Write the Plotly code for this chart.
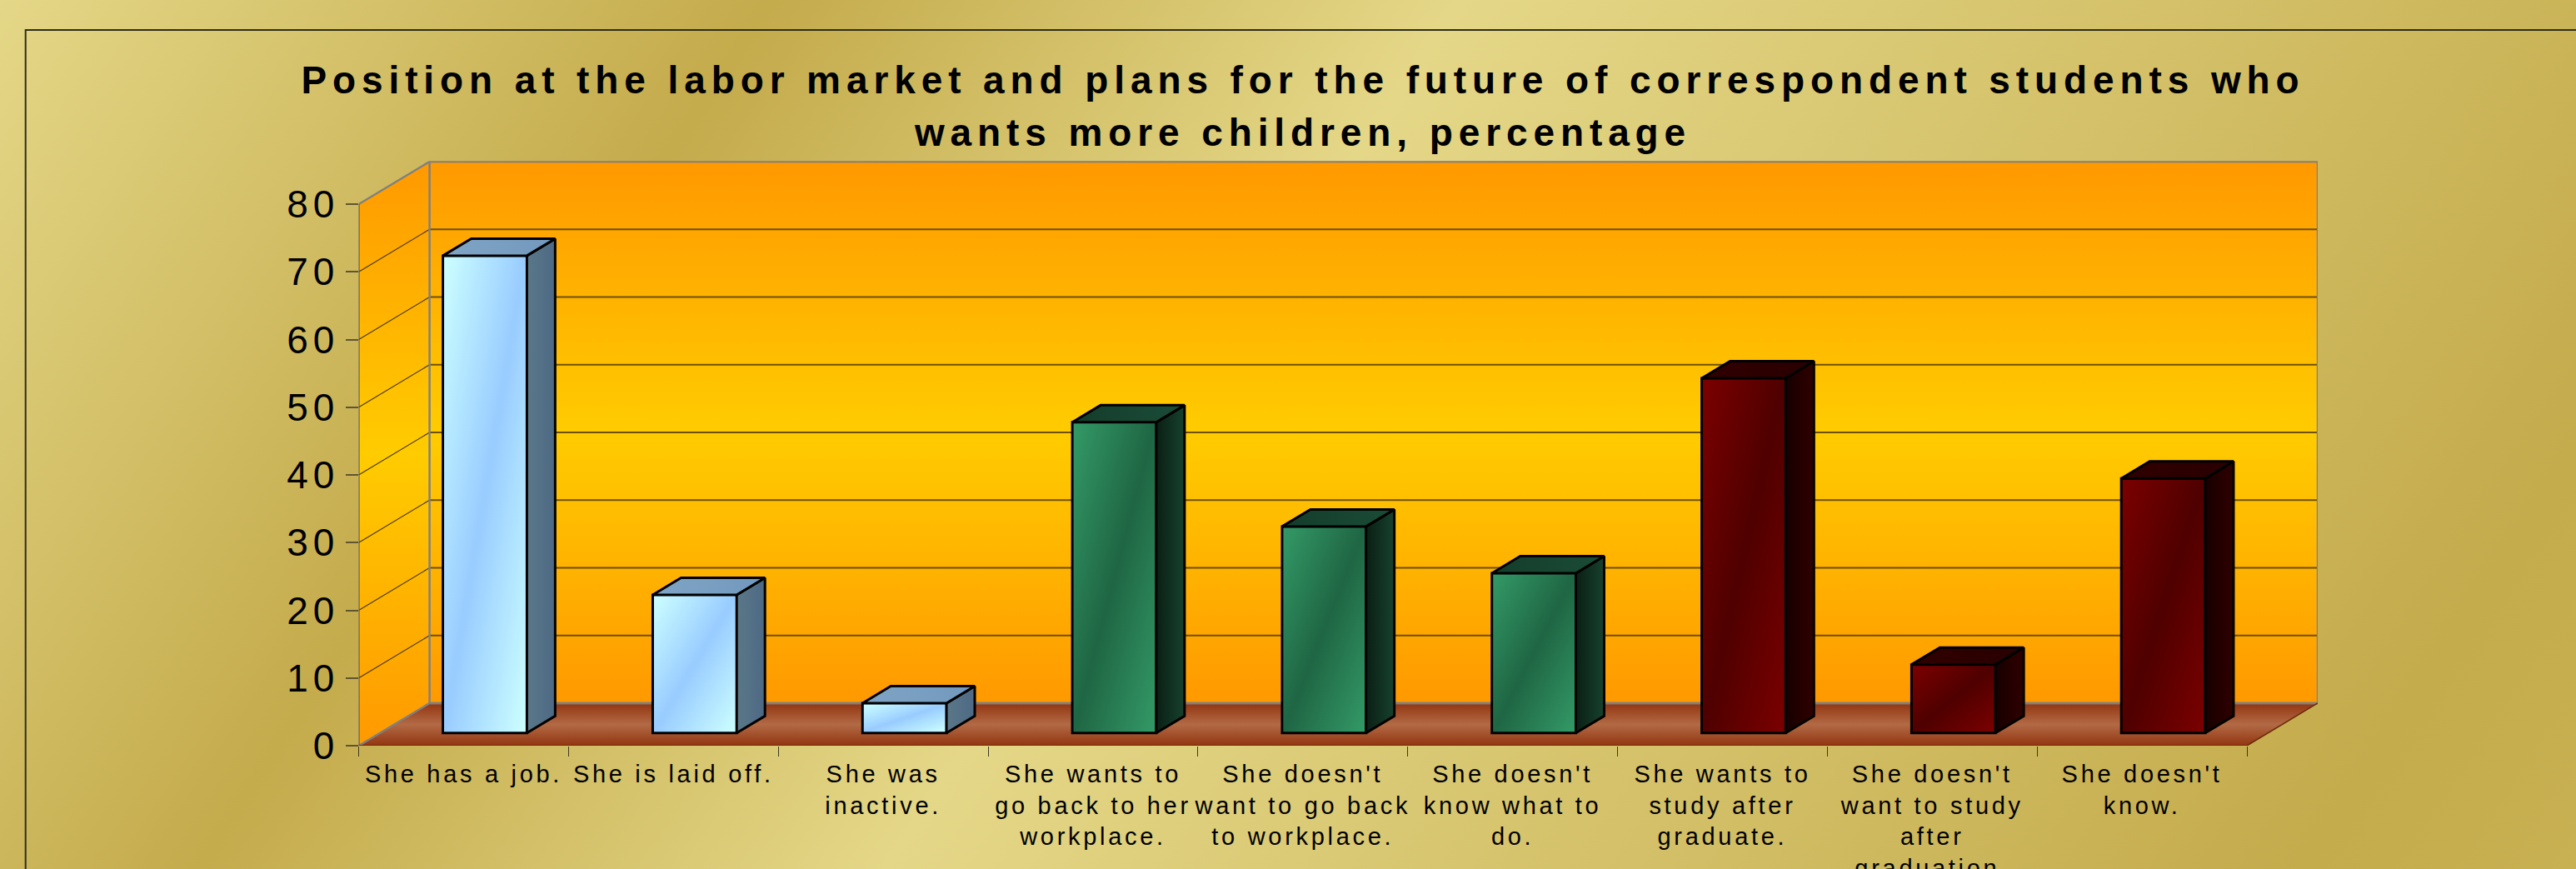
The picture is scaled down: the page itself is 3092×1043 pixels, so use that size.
import base64
import plotly.graph_objects as go

# ---- data ----
categories = [
    "She has a job.", "She is laid off.", "She was<br>inactive.",
    "She wants to<br>go back to her<br>workplace.",
    "She doesn't<br>want to go back<br>to workplace.",
    "She doesn't<br>know what to<br>do.",
    "She wants to<br>study after<br>graduate.",
    "She doesn't<br>want to study<br>after<br>graduation.",
    "She doesn't<br>know.",
]
values = [70.5, 20.4, 4.4, 45.9, 30.5, 23.6, 52.4, 10.1, 37.6]
groups = [0, 0, 0, 1, 1, 1, 2, 2, 2]
y_ticks = [0, 10, 20, 30, 40, 50, 60, 70, 80]
title_text = ("Position at the labor market and plans for the future of correspondent students who"
              "<br>wants more children, percentage")

# ---- styles ----
W, H = 3092, 1043
FONT = "Liberation Sans, Arial, sans-serif"
front_mid = ["#99CCFF", "#1F6644", "#4F0000"]
front_end = ["#CCFFFF", "#339966", "#7B0000"]
side_cols = [("#5A7888", "#4D6985"), ("#0A1F14", "#17412E"), ("#170000", "#300000")]
top_cols = [("#7FA4C4", "#7299BE"), ("#143D2B", "#1A4C37"), ("#300000", "#2A0000")]

# pixel geometry of the 3D box
Lx, Rx_front, Rx_back = 430.6, 2697.0, 2782.0
Y0, Y80, Ytop = 895.0, 245.0, 193.3
ux = (Rx_front - Lx) / 9
uy = (Y0 - Y80) / 80
DX = (Rx_back - Rx_front) / ux
DY = (Y0 - 844.0) / uy
Xmax, Ymax = (Rx_back - Lx) / ux, (Y0 - Ytop) / uy
F1, F2, BAR_W = 0.3, 0.7, 0.4


def grad_svg(c1, c2):
    svg = ('<svg xmlns="http://www.w3.org/2000/svg" viewBox="0 0 100 100" preserveAspectRatio="none">'
           '<defs><linearGradient id="g" x1="0" y1="0" x2="1" y2="1">'
           f'<stop offset="0" stop-color="{c1}"/><stop offset="0.5" stop-color="{c2}"/>'
           f'<stop offset="1" stop-color="{c1}"/></linearGradient></defs>'
           '<rect width="100" height="100" fill="url(#g)"/></svg>')
    return "data:image/svg+xml;base64," + base64.b64encode(svg.encode()).decode()


bg_svg = (f'<svg xmlns="http://www.w3.org/2000/svg" viewBox="0 0 {W} {H}" preserveAspectRatio="none">'
          '<defs><linearGradient id="g" gradientUnits="userSpaceOnUse" x1="0" y1="0" x2="2633" y2="1738">'
          '<stop offset="0" stop-color="#E4D787"/><stop offset="0.245" stop-color="#C4AB4C"/>'
          '<stop offset="0.463" stop-color="#E4D787"/><stop offset="0.913" stop-color="#C4AB4C"/>'
          '<stop offset="1" stop-color="#C8B152"/></linearGradient></defs>'
          f'<rect width="{W}" height="{H}" fill="url(#g)"/></svg>')
bg_uri = "data:image/svg+xml;base64," + base64.b64encode(bg_svg.encode()).decode()

fig = go.Figure()
orange = [[0, "#FF9900"], [0.5, "#FFCC00"], [1, "#FF9900"]]
brown = [[0, "#923510"], [0.5, "#B26A45"], [1, "#923510"]]
GREY, GRID = "#808080", "#6E5000"


def poly(xs, ys, xa="x", ya="y", **kw):
    fig.add_trace(go.Scatter(x=xs, y=ys, xaxis=xa, yaxis=ya, mode="lines", hoverinfo="skip",
                             showlegend=False, cliponaxis=False, **kw))


top80 = y_ticks[-1]
# walls and floor
poly([DX, 9 + DX, 9 + DX, DX, DX], [DY, DY, top80 + DY, top80 + DY, DY], fill="toself",
     line=dict(width=0), fillgradient=dict(type="vertical", colorscale=orange))
poly([0, DX, DX, 0, 0], [0, DY, top80 + DY, top80, 0], fill="toself",
     line=dict(width=0), fillgradient=dict(type="vertical", colorscale=orange,
                                           start=0, stop=top80 + DY))
poly([0, 9, 9 + DX, DX, 0], [0, 0, DY, DY, 0], fill="toself",
     line=dict(width=0), fillgradient=dict(type="vertical", colorscale=brown))
# gridlines
for v in y_ticks[1:-1]:
    poly([0, DX], [v, v + DY], line=dict(color="#4A3A10", width=1.2))
    poly([DX, 9 + DX], [v + DY, v + DY], line=dict(color=GRID, width=2))
# box edges
poly([0, DX, 9 + DX, 9 + DX, DX, DX], [top80, top80 + DY, top80 + DY, DY, DY, top80 + DY],
     line=dict(color=GREY, width=2.5))
poly([0, DX, 9 + DX], [0, DY, DY], line=dict(color=GREY, width=2.5))
poly([0, 9, 9 + DX], [0, 0, DY], line=dict(color="#6A2A08", width=1.5))
poly([0, 0], [0, top80], line=dict(color="#4F5560", width=2))

# bars
base_v = DY * F1
bar_dx, bar_dy = DX * (F2 - F1), DY * (F2 - F1)
for g in range(3):
    idx = [i for i, gi in enumerate(groups) if gi == g]
    fig.add_trace(go.Bar(
        x=[i + 0.5 + DX * F1 for i in idx], y=[values[i] for i in idx],
        base=[base_v] * len(idx), width=BAR_W, xaxis="x2", yaxis="y2",
        marker=dict(color=front_mid[g], line=dict(color="#000000", width=3)),
        showlegend=False, hovertext=[categories[i] for i in idx], hoverinfo="text+y"))

images = [dict(source=bg_uri, xref="paper", yref="paper", x=0, y=1, sizex=1, sizey=1,
               xanchor="left", yanchor="top", sizing="stretch", layer="below")]
inset_x, inset_y = 1.5 / ux, 1.5 / uy
for i, v in enumerate(values):
    g = groups[i]
    x0 = i + 0.5 + DX * F1 - BAR_W / 2
    x1 = x0 + BAR_W
    y0, y1 = base_v, base_v + v
    poly([x1, x1 + bar_dx, x1 + bar_dx, x1, x1], [y0, y0 + bar_dy, y1 + bar_dy, y1, y0],
         xa="x2", ya="y2", fill="toself", line=dict(color="#000000", width=3),
         fillgradient=dict(type="horizontal", colorscale=[[0, side_cols[g][0]], [1, side_cols[g][1]]]))
    poly([x0, x1, x1 + bar_dx, x0 + bar_dx, x0], [y1, y1, y1 + bar_dy, y1 + bar_dy, y1],
         xa="x2", ya="y2", fill="toself", line=dict(color="#000000", width=3),
         fillgradient=dict(type="horizontal", colorscale=[[0, top_cols[g][0]], [1, top_cols[g][1]]]))
    images.append(dict(source=grad_svg(front_end[g], front_mid[g]), xref="x2", yref="y2",
                       x=x0 + inset_x, y=y1 - inset_y, sizex=BAR_W - 2 * inset_x,
                       sizey=v - 2 * inset_y, xanchor="left", yanchor="top",
                       sizing="stretch", layer="above"))

dom_x = [Lx / W, Rx_back / W]
dom_y = [1 - Y0 / H, 1 - Ytop / H]
fig.update_layout(
    width=W, height=H, margin=dict(l=0, r=0, t=0, b=0, pad=0, autoexpand=False),
    paper_bgcolor="#D4C06A", plot_bgcolor="rgba(0,0,0,0)", showlegend=False, barmode="overlay",
    font=dict(family=FONT, color="#000000"),
    title=dict(text=title_text, x=1564 / W, xanchor="center", y=1 - 112 / H, yanchor="top",
               font=dict(family=FONT, size=46, weight="bold", color="#000000")),
    images=images,
    shapes=[dict(type="path", xref="paper", yref="paper",
                 path=f"M {30.7 / W} 0 L {30.7 / W} {1 - 36 / H} L 1.01 {1 - 36 / H}",
                 line=dict(color="#302E18", width=2), layer="below")],
    xaxis=dict(domain=dom_x, range=[0, Xmax], tickvals=list(range(10)), ticks="outside", ticklen=12,
               tickwidth=1.3, tickcolor="#403A20", showticklabels=False, showgrid=False,
               zeroline=False, showline=False, anchor="y", automargin=False),
    yaxis=dict(domain=dom_y, range=[0, Ymax], tickvals=y_ticks, ticks="outside", ticklen=15,
               tickwidth=2, tickcolor="#5F5530", showgrid=False, zeroline=False, showline=False,
               tickfont=dict(family=FONT, size=46, color="#000000"), ticklabelstandoff=-2, anchor="x",
               automargin=False),
    xaxis2=dict(domain=dom_x, range=[0, Xmax], overlaying="x", anchor="y2", side="bottom",
                tickmode="array", tickvals=[i + 0.5 for i in range(len(categories))], ticktext=categories,
                ticks="", showgrid=False, zeroline=False, showline=False, tickangle=0, automargin=False,
                tickfont=dict(family=FONT, size=29, color="#000000"), ticklabelstandoff=14),
    yaxis2=dict(domain=dom_y, range=[0, Ymax], overlaying="y", anchor="x2", showticklabels=False,
                ticks="", showgrid=False, zeroline=False, showline=False, automargin=False),
)

post = """
document.body.style.margin='0';document.body.style.overflow='hidden';
var s=document.createElement('style');
s.textContent='.gtitle{letter-spacing:6.9px}.ytick text{letter-spacing:6px}.x2tick text{letter-spacing:3.7px}';
document.head.appendChild(s);
var t=document.querySelectorAll('.gtitle tspan.line');
if(t.length>1){t[1].setAttribute('dy','63');}
"""
fig.write_html("out.html", post_script=post, config=dict(displayModeBar=False))
